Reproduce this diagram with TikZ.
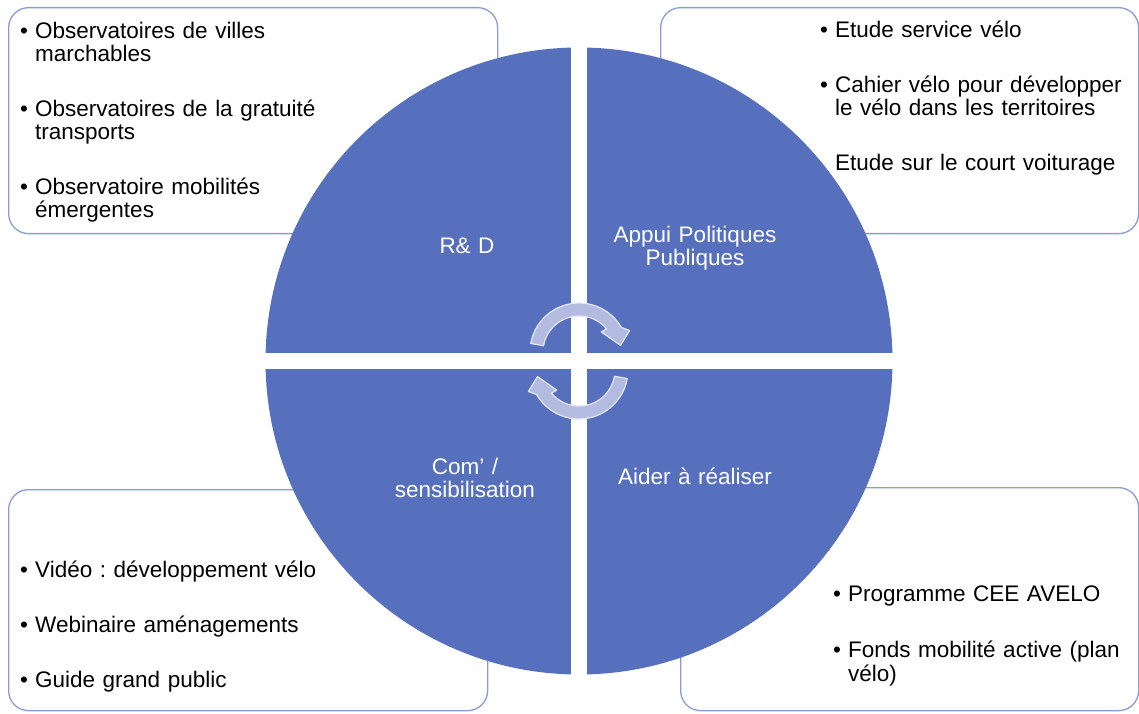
\documentclass[tikz,border=0pt]{standalone}
\usepackage{fontspec}
\setmainfont{Liberation Sans}
\usetikzlibrary{positioning}
\frenchspacing

\definecolor{quadblue}{HTML}{5670BE}
\definecolor{panelline}{HTML}{8A9BD6}
\definecolor{arrowfill}{HTML}{B4BBE0}
\definecolor{arrowline}{HTML}{E4E7F5}

\newcommand{\puce}[1]{\makebox[15pt][l]{•}\parbox[t]{310pt}{\raggedright #1}}

\tikzset{
  cyclearrow/.pic={
    \filldraw[fill=arrowfill, draw=arrowline, line width=1.2pt, line join=round]
      (170:49pt) arc[start angle=170, end angle=30, radius=49pt]
      -- (23:55pt) -- (9:42pt) -- (42:30pt) -- (40:36pt)
      arc[start angle=40, end angle=170, radius=36pt] -- cycle;
  }
}

\begin{document}
\begin{tikzpicture}[
  x=1pt, y=1pt,
  panel/.style={rectangle, draw=panelline, line width=1.3pt, fill=white, rounded corners=20pt, inner sep=0pt, anchor=north west},
  quadlabel/.style={text=white, font=\fontsize{22.5}{23}\selectfont, align=center, text width=230pt, anchor=base, inner sep=0pt},
  puceitem/.style={font=\fontsize{22.5}{23.5}\selectfont, align=left, text width=330pt, anchor=base west, inner sep=0pt},
  gapline/.style={white, line width=16pt}
]
\useasboundingbox (0,0) rectangle (1139,713);

% side panels
\node[panel, minimum width=489pt, minimum height=226pt] (panelrd) at (8,706) {};
\node[panel, minimum width=478pt, minimum height=226pt] (panelappui) at (660,706) {};
\node[panel, minimum width=479pt, minimum height=221pt] (panelcom) at (8,224) {};
\node[panel, minimum width=458pt, minimum height=223pt] (panelaider) at (680,226) {};

% the disc and its four quarters
\node[circle, fill=quadblue, minimum size=627pt, inner sep=0pt] (disc) at (579,352) {};
\draw[gapline] (disc.north) -- (disc.south);
\draw[gapline] (disc.west) -- (disc.east);

\pic (cycletop) at (579,361) {cyclearrow};
\pic[rotate=180] (cyclebottom) at (579,343) {cyclearrow};

\node[quadlabel] (lblrd) at (467,459.5) {R\& D};
\node[quadlabel] (lblappui) at (695,470.5) {Appui Politiques\\Publiques};
\node[quadlabel] (lblcom) at (465,238.5) {Com’ /\\sensibilisation};
\node[quadlabel] (lblaider) at (695,228.5) {Aider à réaliser};

% R&D
\node[puceitem] (rd1) at (20,674.5) {\puce{Observatoires de villes\\marchables}};
\node[puceitem] (rd2) at ([yshift=-78pt]rd1.base west) {\puce{Observatoires de la gratuité\\transports}};
\node[puceitem] (rd3) at ([yshift=-78pt]rd2.base west) {\puce{Observatoire mobilités\\émergentes}};

% Appui
\node[puceitem] (ap1) at (820,675.5) {\puce{Etude service vélo}};
\node[puceitem] (ap2) at ([yshift=-55pt]ap1.base west) {\puce{Cahier vélo pour développer\\le vélo dans les territoires}};
\node[puceitem] (ap3) at ([xshift=15pt,yshift=-78pt]ap2.base west) {Etude sur le court voiturage};

% Com
\node[puceitem] (com1) at (20,135.5) {\puce{Vidéo : développement vélo}};
\node[puceitem] (com2) at ([yshift=-55pt]com1.base west) {\puce{Webinaire aménagements}};
\node[puceitem] (com3) at ([yshift=-55pt]com2.base west) {\puce{Guide grand public}};

% Aider
\node[puceitem] (ai1) at (833,111.5) {\puce{Programme CEE AVELO}};
\node[puceitem] (ai2) at ([yshift=-56pt]ai1.base west) {\puce{Fonds mobilité active (plan\\vélo)}};
\end{tikzpicture}
\end{document}
